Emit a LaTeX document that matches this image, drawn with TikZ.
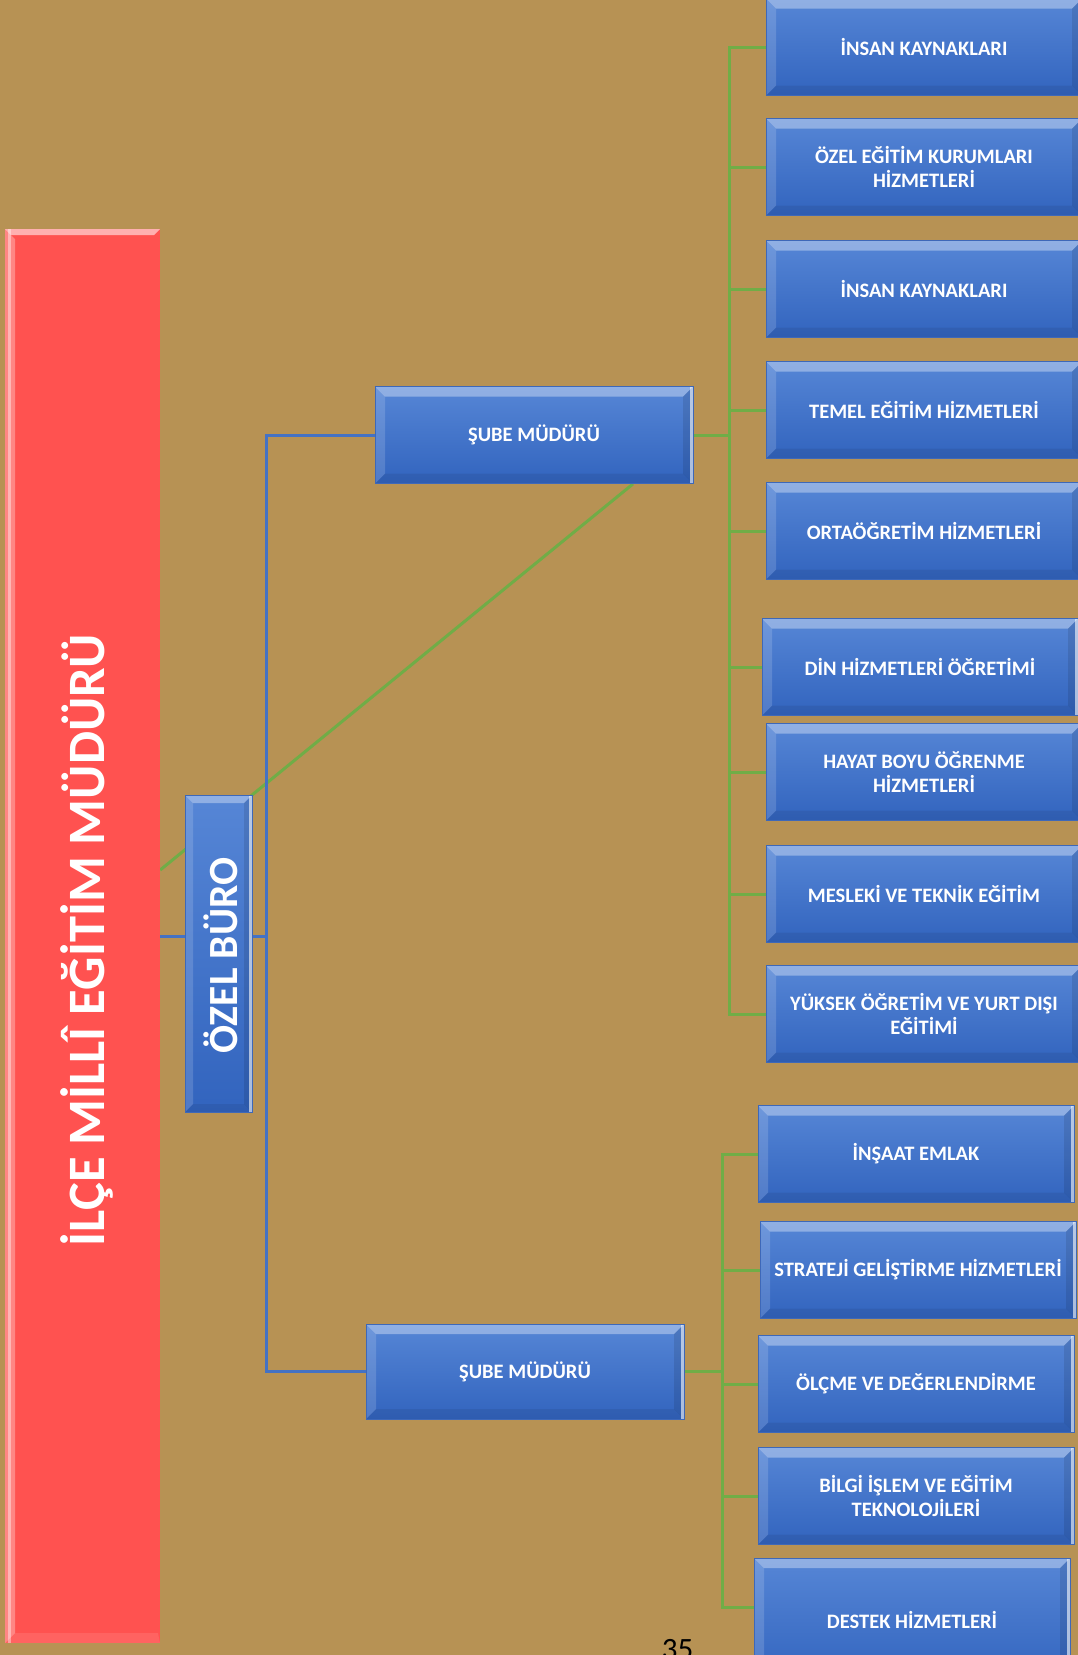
\documentclass[tikz,border=0pt]{standalone}
\usepackage{fontspec}
\setmainfont{Carlito}
\usetikzlibrary{backgrounds}

\definecolor{pagetan}{RGB}{183,146,84}
\definecolor{unitred}{RGB}{255,82,80}
\definecolor{unittop}{RGB}{86,134,214}
\definecolor{unitbot}{RGB}{50,100,190}
\definecolor{unitedge}{RGB}{62,104,184}
\definecolor{linkgreen}{RGB}{112,173,71}
\definecolor{linkblue}{RGB}{68,114,196}

% bevelled faces of a box, #1 = bevel width
\newcommand{\bevelfaces}[1]{%
  \fill[white,opacity=.35] (path picture bounding box.north west) -- (path picture bounding box.north east)
    -- ([shift={(-#1,-#1)}]path picture bounding box.north east) -- ([shift={(#1,-#1)}]path picture bounding box.north west) -- cycle;
  \fill[white,opacity=.15] (path picture bounding box.north west) -- ([shift={(#1,-#1)}]path picture bounding box.north west)
    -- ([shift={(#1,#1)}]path picture bounding box.south west) -- (path picture bounding box.south west) -- cycle;
  \fill[black,opacity=.1] (path picture bounding box.north east) -- ([shift={(-#1,-#1)}]path picture bounding box.north east)
    -- ([shift={(-#1,#1)}]path picture bounding box.south east) -- (path picture bounding box.south east) -- cycle;
  \fill[black,opacity=.07] (path picture bounding box.south west) -- ([shift={(#1,#1)}]path picture bounding box.south west)
    -- ([shift={(-#1,#1)}]path picture bounding box.south east) -- (path picture bounding box.south east) -- cycle;
  \fill[white,opacity=.6] ([xshift=-3pt]path picture bounding box.north east) rectangle (path picture bounding box.south east);
}

\tikzset{
  unitbox/.style={rectangle, draw=unitedge, line width=.8pt, top color=unittop, bottom color=unitbot,
    minimum width=316pt, minimum height=97pt, inner sep=2pt, text=white, align=center,
    font=\bfseries\fontsize{20.5}{24}\selectfont, path picture={\bevelfaces{10pt}}},
  chiefbox/.style={rectangle, fill=unitred, minimum width=155pt, minimum height=1414pt, inner sep=0pt,
    path picture={
      \fill[white,opacity=.55] (path picture bounding box.north west) -- (path picture bounding box.north east)
        -- ([shift={(-6pt,-6pt)}]path picture bounding box.north east) -- ([shift={(6pt,-6pt)}]path picture bounding box.north west) -- cycle;
      \fill[white,opacity=.3] (path picture bounding box.north west) -- ([shift={(10pt,-10pt)}]path picture bounding box.north west)
        -- ([shift={(10pt,10pt)}]path picture bounding box.south west) -- (path picture bounding box.south west) -- cycle;
      \fill[white,opacity=.4] ([xshift=3pt]path picture bounding box.north west) rectangle ([xshift=6pt]path picture bounding box.south west);
      \fill[white,opacity=.1] (path picture bounding box.south west) -- ([shift={(10pt,10pt)}]path picture bounding box.south west)
        -- ([shift={(-2pt,10pt)}]path picture bounding box.south east) -- (path picture bounding box.south east) -- cycle;
    }},
  greenlink/.style={draw=linkgreen, line width=3pt},
  bluelink/.style={draw=linkblue, line width=3pt},
}

\begin{document}
\begin{tikzpicture}[x=1pt,y=-1pt]
\useasboundingbox (0,0) rectangle (1078,1655);

% director and private office
\node[chiefbox] (mudur) at (82.5,936) {};
\node[rotate=90, text=white, font=\bfseries\fontsize{52.5}{60}\selectfont] (mudurtitle) at (87,940) {İLÇE MİLLÎ EĞİTİM MÜDÜRÜ};
\node[unitbox, minimum width=67pt, minimum height=317pt, path picture={\bevelfaces{8pt}}] (buro) at (218.5,953.5) {};
\node[rotate=90, text=white, font=\bfseries\fontsize{41.5}{48}\selectfont] (burotitle) at (221,955.5) {ÖZEL BÜRO};

% branch managers
\node[unitbox, minimum width=318pt] (sube1) at (534,435) {ŞUBE MÜDÜRÜ};
\node[unitbox, minimum width=318pt, minimum height=95pt] (sube2) at (525,1371.5) {ŞUBE MÜDÜRÜ};

% units of the first manager
\foreach \n/\x/\y/\txt in {
  a1/924/47/{İNSAN KAYNAKLARI},
  a2/924/167/{ÖZEL EĞİTİM KURUMLARI\\HİZMETLERİ},
  a3/924/289/{İNSAN KAYNAKLARI},
  a4/924/410/{TEMEL EĞİTİM HİZMETLERİ},
  a5/924/531/{ORTAÖĞRETİM  HİZMETLERİ},
  a6/920/667/{DİN HİZMETLERİ ÖĞRETİMİ},
  a7/924/772/{HAYAT BOYU ÖĞRENME\\HİZMETLERİ},
  a8/924/894/{MESLEKİ VE TEKNİK EĞİTİM},
  a9/924/1014/{YÜKSEK ÖĞRETİM VE YURT DIŞI\\EĞİTİMİ}}
  \node[unitbox] (\n) at (\x,\y) {\txt};

% units of the second manager
\foreach \n/\x/\y/\txt in {
  b1/916/1154/{İNŞAAT EMLAK},
  b2/918/1270/{STRATEJİ GELİŞTİRME  HİZMETLERİ},
  b3/916/1384/{ÖLÇME VE DEĞERLENDİRME},
  b4/916/1496/{BİLGİ İŞLEM VE EĞİTİM\\TEKNOLOJİLERİ}}
  \node[unitbox] (\n) at (\x,\y) {\txt};
\node[unitbox, minimum height=124pt] (b5) at (912,1620) {DESTEK HİZMETLERİ};

% page number
\node[anchor=base, font=\fontsize{31}{36}\selectfont] (pagenum) at (677.5,1659) {35};

\begin{scope}[on background layer]
\fill[pagetan] (0,0) rectangle (1078,1655);
\draw[greenlink] ([yshift=66pt]mudur.east) -- ([xshift=99pt]sube1.south);
\draw[bluelink] (mudur.east) -- (mudur.east -| buro.west);
\draw[bluelink] (buro.east |- mudur.east) -- ++(14,0) coordinate (split) |- (sube1.west);
\draw[bluelink] (split) |- (sube2.west);
\foreach \i in {1,...,9}
  \draw[greenlink] (sube1.east) -- ++(36,0) |- (a\i.west);
\foreach \i in {1,...,4}
  \draw[greenlink] (sube2.east) -- ++(38,0) |- (b\i.west);
\draw[greenlink] (sube2.east) -- ++(38,0) |- ([yshift=13pt]b5.west);
\end{scope}
\end{tikzpicture}
\end{document}
